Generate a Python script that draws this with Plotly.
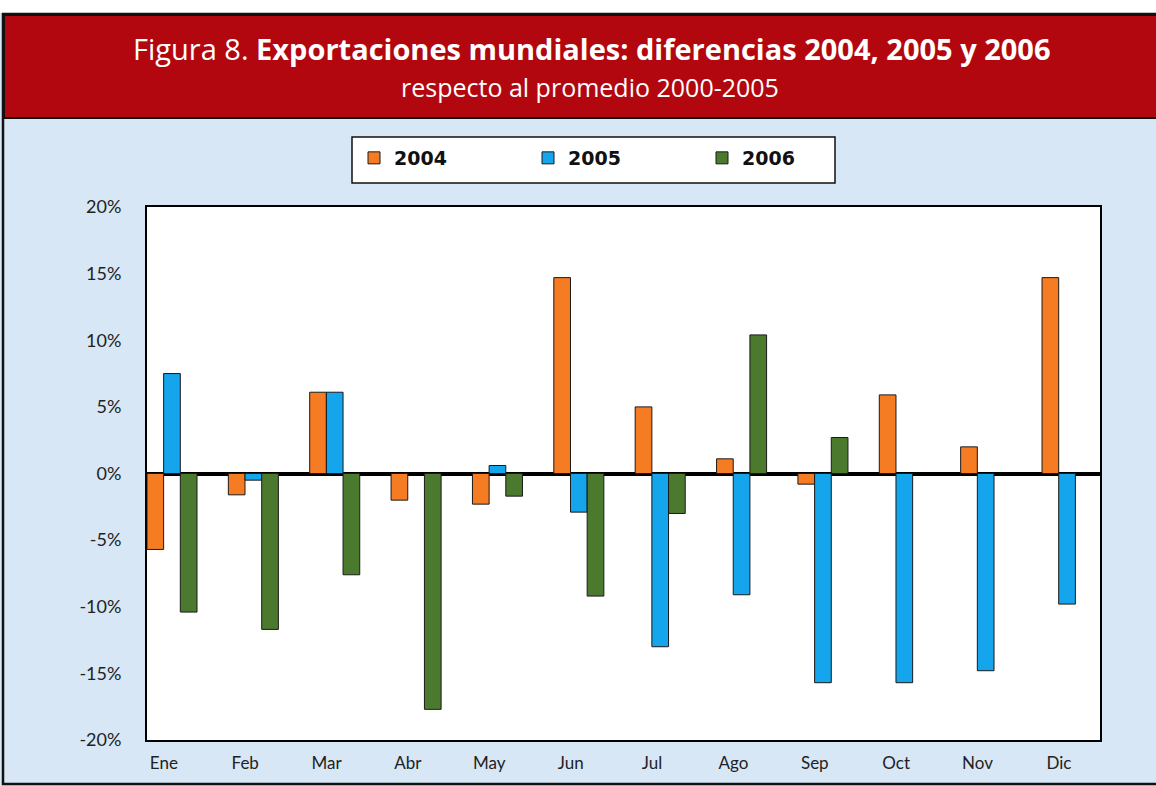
import plotly.graph_objects as go

months = ["Ene", "Feb", "Mar", "Abr", "May", "Jun", "Jul", "Ago", "Sep", "Oct", "Nov", "Dic"]
v2004 = [-5.7, -1.6, 6.1, -2.0, -2.3, 14.7, 5.0, 1.1, -0.8, 5.9, 2.0, 14.7]
v2005 = [7.5, -0.5, 6.1, None, 0.6, -2.9, -13.0, -9.1, -15.7, -15.7, -14.8, -9.8]
v2006 = [-10.4, -11.7, -7.6, -17.7, -1.7, -9.2, -3.0, 10.4, 2.7, None, None, None]
y_ticks = [-20, -15, -10, -5, 0, 5, 10, 15, 20]
y_labels = ["-20%", "-15%", "-10%", "-5%", "0%", "5%", "10%", "15%", "20%"]

W, H = 1156, 786
L, R, T, B = 147, 56, 207, 46
pw, ph = W - L - R, H - T - B


def px(x):
    return (x - L) / pw


def py(y):
    return (H - B - y) / ph


xs = list(range(len(months)))

fig = go.Figure()
for name, vals, col in [("2004", v2004, "#f57c22"),
                        ("2005", v2005, "#14a5ec"),
                        ("2006", v2006, "#4b7a2e")]:
    fig.add_trace(go.Bar(x=xs, y=vals, name=name,
                         marker=dict(color=col, line=dict(color="#1a1a1a", width=1))))

blue_bg = "#d7e7f6"
fig.update_layout(
    width=W, height=H,
    margin=dict(l=L, r=R, t=T, b=B),
    paper_bgcolor=blue_bg,
    plot_bgcolor="white",
    barmode="group",
    bargap=0.385,
    bargroupgap=0,
    font=dict(family="Lato, sans-serif", color="#222", size=16),
    showlegend=True,
    legend=dict(orientation="h", x=px(354), y=py(139), xanchor="left", yanchor="top",
                bgcolor="rgba(0,0,0,0)", borderwidth=0,
                font=dict(family="DejaVu Sans, sans-serif", size=19, color="#111", weight="bold"),
                entrywidth=129, itemwidth=30),
    xaxis=dict(range=[-0.307, 11.405], showgrid=False, showline=True, mirror=True,
               linecolor="black", linewidth=2, ticks="", zeroline=False,
               tickvals=[i - 0.1 for i in xs], ticktext=months,
               ticklabelstandoff=7, tickfont=dict(size=17)),
    yaxis=dict(range=[-20, 20], tickvals=y_ticks, ticktext=y_labels, showgrid=False,
               zeroline=True, zerolinecolor="black", zerolinewidth=4,
               showline=True, mirror=True, linecolor="black", linewidth=2,
               ticks="", ticklabelstandoff=20, tickfont=dict(size=18)),
    shapes=[
        dict(type="rect", xref="paper", yref="paper", x0=px(-10), x1=px(W + 10),
             y0=py(13), y1=py(-10), fillcolor="white", line_width=0, layer="below"),
        dict(type="rect", xref="paper", yref="paper", x0=px(3), x1=px(W + 10),
             y0=py(784), y1=py(14), fillcolor="rgba(0,0,0,0)",
             line=dict(color="#111", width=2.5), layer="above"),
        dict(type="rect", xref="paper", yref="paper", x0=px(4), x1=px(W + 10),
             y0=py(118), y1=py(15), fillcolor="#b3070f",
             line=dict(color="#111", width=2), layer="below"),
        # legend box
        dict(type="rect", xref="paper", yref="paper", x0=px(352), x1=px(835),
             y0=py(183), y1=py(137), fillcolor="white",
             line=dict(color="#111", width=1.5), layer="below"),
    ],
    annotations=[
        dict(xref="paper", yref="paper", x=px(592), y=py(48), xanchor="center", yanchor="middle",
             text="Figura 8. <b>Exportaciones mundiales: diferencias 2004, 2005 y 2006</b>",
             showarrow=False, font=dict(family="Open Sans, sans-serif", size=29, color="white")),
        dict(xref="paper", yref="paper", x=px(590), y=py(87), xanchor="center", yanchor="middle",
             text="respecto al promedio 2000-2005",
             showarrow=False, font=dict(family="Open Sans, sans-serif", size=25, color="white")),
    ],
)

fig.write_html("out.html", config={"displayModeBar": False},
               post_script="document.body.style.margin='0';")
